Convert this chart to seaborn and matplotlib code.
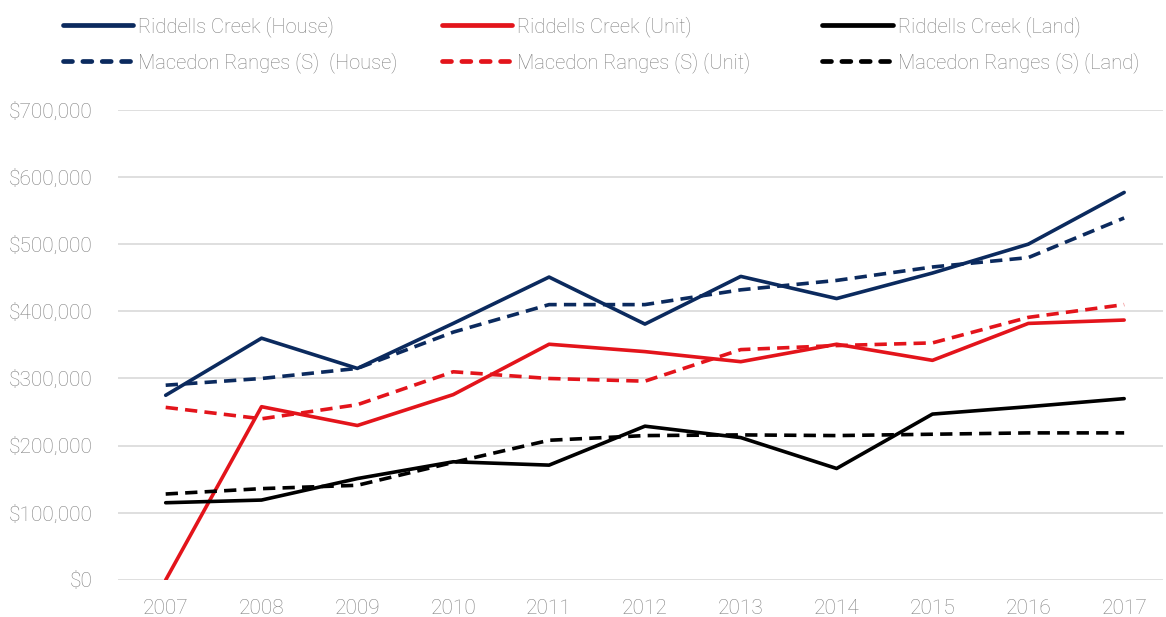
import matplotlib
matplotlib.use("Agg")
import matplotlib.pyplot as plt
from matplotlib.ticker import FuncFormatter
import pandas as pd
import seaborn as sns

years = ["2007", "2008", "2009", "2010", "2011", "2012", "2013", "2014", "2015", "2016", "2017"]

rc_house = [275000, 360000, 315000, 382000, 451000, 381000, 452000, 419000, 457000, 500000, 577000]
mr_house = [290000, 300000, 315000, 369000, 410000, 410000, 432000, 446000, 466000, 480000, 539000]
rc_unit = [0, 258000, 230000, 276000, 351000, 340000, 325000, 351000, 327000, 382000, 387000]
mr_unit = [257000, 240000, 261000, 310000, 300000, 296000, 343000, 349000, 353000, 391000, 410000]
rc_land = [115000, 119000, 151000, 176000, 171000, 229000, 212000, 166000, 247000, 258000, 270000]
mr_land = [128000, 136000, 141000, 175000, 208000, 215000, 216000, 215000, 217000, 219000, 219000]

series_names = [
    "Riddells Creek (House)",
    "Macedon Ranges (S)  (House)",
    "Riddells Creek (Unit)",
    "Macedon Ranges (S) (Unit)",
    "Riddells Creek (Land)",
    "Macedon Ranges (S) (Land)",
]
series_values = [rc_house, mr_house, rc_unit, mr_unit, rc_land, mr_land]

navy = "#0b2a5e"
red = "#e3141b"
black = "#000000"
text_grey = "#808080"
palette = dict(zip(series_names, [navy, navy, red, red, black, black]))
dashes = dict(zip(series_names, [(None, None) if i % 2 == 0 else (3.4, 2.0) for i in range(6)]))

df = pd.DataFrame(
    [(name, y, v) for name, vals in zip(series_names, series_values) for y, v in zip(years, vals)],
    columns=["Series", "Year", "Value"],
)

sns.set_theme(style="white")
plt.rcParams["font.family"] = ["Roboto", "DejaVu Sans"]

fig = plt.figure(figsize=(11.66, 6.17), dpi=100)
ax = fig.add_axes([0.101, 0.060, 0.896, 0.762])

sns.lineplot(
    data=df, x="Year", y="Value", hue="Series", style="Series",
    palette=palette, dashes=dashes, linewidth=2.6, ax=ax, sort=False,
)

ax.set_ylim(0, 700000)
ax.set_xlim(-0.5, 10.4)
ax.set_yticks(range(0, 700001, 100000))
ax.yaxis.set_major_formatter(FuncFormatter(lambda v, p: f"${int(v):,}"))
ax.grid(axis="y", color="#d9d9d9", linewidth=1.2)
ax.grid(axis="x", visible=False)
ax.set_axisbelow(True)
for s in ax.spines.values():
    s.set_visible(False)
ax.set_xlabel("")
ax.set_ylabel("")
ax.tick_params(axis="both", length=0, labelsize=15, labelcolor=text_grey)
ax.tick_params(axis="y", pad=18)
ax.tick_params(axis="x", pad=14)
for lbl in ax.get_xticklabels() + ax.get_yticklabels():
    lbl.set_fontweight("light")

handles, labels = ax.get_legend_handles_labels()
ax.get_legend().remove()

# one legend column per property type, each with the suburb and the shire line
column_x = [0.054, 0.379, 0.705]
for col, x0 in enumerate(column_x):
    pair_h = handles[2 * col:2 * col + 2]
    pair_l = labels[2 * col:2 * col + 2]
    leg = fig.legend(
        pair_h, pair_l, loc="upper left", bbox_to_anchor=(x0, 0.974),
        frameon=False, fontsize=14.5, handlelength=3.5, handletextpad=0.25,
        labelspacing=0.76, borderaxespad=0, borderpad=0,
    )
    for t in leg.get_texts():
        t.set_color(text_grey)
        t.set_fontweight("light")
    for i, h in enumerate(leg.get_lines()):
        h.set_linewidth(3.4)
        if i == 1:
            h.set_dash_capstyle("round")
            h.set_dashes((1.9, 2.2))

fig.savefig("out.png", dpi=100)
